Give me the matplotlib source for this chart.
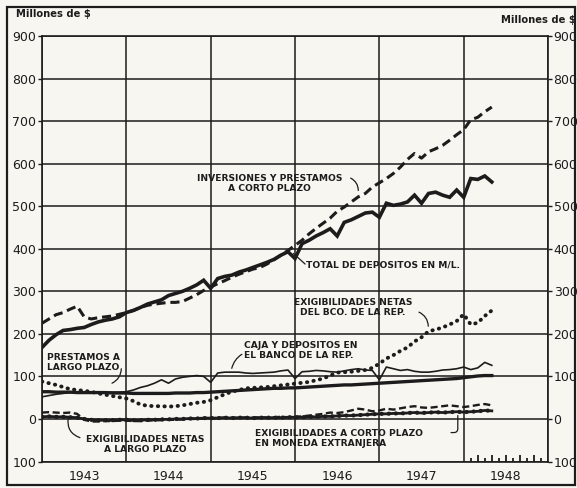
import numpy as np
import matplotlib
matplotlib.use('Agg')
from matplotlib import pyplot as plt
from matplotlib.patches import Rectangle

# monthly series, Jan 1943 .. May 1948 (millones de $)
total_depositos = [168, 185, 198, 208, 210, 213, 215, 222, 228, 232, 235, 240,
                   250, 255, 262, 270, 275, 280, 290, 295, 300, 307, 315, 326,
                   307, 330, 335, 338, 345, 350, 356, 362, 368, 375, 385, 393,
                   377, 412, 420, 430, 438, 447, 430, 462, 468, 476, 484, 486,
                   474, 507, 502, 505, 510, 526, 507, 530, 533, 526, 521, 538,
                   521, 565, 563, 571, 557]
inversiones = [225, 235, 245, 250, 258, 265, 240, 235, 238, 240, 242, 246,
               250, 255, 262, 267, 270, 272, 274, 274, 276, 284, 292, 302,
               310, 318, 325, 333, 340, 346, 352, 356, 364, 374, 385, 396,
               408, 420, 435, 448, 460, 472, 488, 498, 510, 522, 530, 545,
               555, 565, 577, 592, 610, 624, 613, 628, 635, 643, 655, 668,
               680, 703, 709, 722, 733]
exig_bco = [88, 84, 80, 75, 70, 68, 66, 64, 60, 57, 54, 51,
            48, 42, 34, 31, 30, 30, 29, 30, 32, 35, 38, 40,
            44, 51, 58, 64, 68, 72, 73, 74, 75, 77, 79, 81,
            83, 85, 87, 91, 95, 102, 109, 110, 111, 113, 115, 120,
            130, 142, 150, 160, 168, 182, 192, 206, 210, 215, 222, 230,
            246, 222, 226, 242, 255]
caja = [52, 55, 58, 60, 62, 62, 62, 63, 63, 63, 63, 63,
        64, 68, 74, 78, 84, 92, 84, 94, 98, 100, 102, 100,
        86, 108, 110, 110, 110, 108, 107, 108, 109, 110, 113, 115,
        95, 111, 112, 114, 113, 111, 110, 113, 116, 118, 115, 114,
        92, 122, 118, 114, 116, 112, 110, 110, 112, 115, 116, 118,
        122, 116, 120, 133, 126]
prestamos_lp = [64, 64, 63, 63, 63, 62, 62, 62, 62, 62, 61, 61,
                61, 60, 60, 60, 60, 60, 60, 61, 61, 61, 62, 62,
                63, 64, 65, 66, 67, 68, 69, 70, 71, 72, 72, 73,
                73, 74, 75, 76, 77, 78, 79, 80, 80, 81, 82, 83,
                84, 85, 86, 87, 88, 89, 90, 91, 92, 93, 94, 95,
                97, 99, 101, 102, 102]
exig_lp = [15, 16, 15, 14, 15, 12, -2, -6, -6, -5, -5, -4,
           -4, -5, -5, -4, -3, -3, -2, -2, -1, 0, 0, 1,
           2, 2, 3, 3, 2, 3, 3, 4, 3, 4, 5, 4,
           5, 6, 8, 10, 12, 15, 14, 16, 20, 24, 22, 18,
           20, 24, 22, 25, 28, 30, 27, 26, 28, 30, 32, 30,
           28, 30, 33, 35, 32]
exig_me = [5, 6, 5, 5, 4, 3, 0, -2, -3, -3, -3, -2,
           -2, -3, -3, -2, -2, -1, -1, 0, 0, 1, 1, 2,
           2, 2, 3, 2, 3, 3, 2, 3, 3, 3, 3, 4,
           4, 4, 5, 5, 6, 6, 7, 8, 8, 9, 10, 11,
           12, 12, 13, 13, 14, 15, 14, 15, 16, 15, 16, 17,
           16, 17, 18, 20, 19]

years = [1943, 1944, 1945, 1946, 1947, 1948]
y_ticks = [-100, 0, 100, 200, 300, 400, 500, 600, 700, 800, 900]
y_labels = ['100', '0', '100', '200', '300', '400', '500', '600', '700', '800', '900']
months_1948 = [1, 2, 3, 4, 5, 6, 7, 8, 9, 10, 11]

INK = '#1c1c1c'
PAPER = '#f8f6f0'

months = np.arange(len(total_depositos))
x = 1943 + months / 12.0

fig = plt.figure(figsize=(5.77, 4.88), dpi=100, facecolor=PAPER)
ax = fig.add_axes([0.0728, 0.0543, 0.877, 0.8719])
ax.set_facecolor(PAPER)

# marco exterior de la pagina
fig.patches.append(Rectangle((0.012, 0.006), 0.985, 0.98, transform=fig.transFigure,
                             fill=False, edgecolor=INK, linewidth=1.6))

ax.set_xlim(1943, 1949)
ax.set_ylim(-100, 900)

# grilla
ax.set_xticks(years + [1949])
ax.set_xticklabels([])
ax.set_xticks([yr + 0.5 for yr in years], minor=True)
ax.set_xticklabels([str(yr) for yr in years], minor=True)
ax.tick_params(axis='x', which='both', length=0, pad=6, labelsize=9, colors=INK)
ax.set_yticks(y_ticks)
ax.set_yticklabels(y_labels)
ax.tick_params(axis='y', length=3, width=1, pad=1, labelsize=9, colors=INK,
               right=True, labelright=True)
ax.grid(True, which='major', color=INK, linewidth=1.1)
for sp in ax.spines.values():
    sp.set_color(INK)
    sp.set_linewidth(1.2)

# marcas mensuales en 1948
tick_x = [1948 + m / 12.0 for m in months_1948]
tick_h = [-91 if m % 2 else -84 for m in months_1948]
ax.vlines(tick_x, -100, tick_h, color=INK, linewidth=1.3)

# series
ax.plot(x, inversiones, color=INK, linewidth=2.2, linestyle=(0, (3, 1.6)))
ax.plot(x, total_depositos, color=INK, linewidth=2.6, solid_joinstyle='miter')
ax.plot(x, exig_bco, color=INK, linewidth=2.8, linestyle=(0, (0.1, 1.6)),
        dash_capstyle='round')
ax.plot(x, caja, color=INK, linewidth=1.2)
ax.plot(x, prestamos_lp, color=INK, linewidth=2.4)
ax.plot(x, exig_lp, color=INK, linewidth=1.7, linestyle=(0, (3, 1.5)))
ax.plot(x, exig_me, color=INK, linewidth=2.0)
ax.plot(x, exig_me, color=INK, linewidth=3.0, linestyle=(0, (0.1, 1.6)),
        dash_capstyle='round')

# rotulos
lbl = dict(fontsize=6.6, fontweight='bold', color=INK, linespacing=1.15)
arrow = dict(arrowstyle='-', color=INK, linewidth=0.9, shrinkA=0, shrinkB=0)

ax.text(1945.70, 553, 'INVERSIONES Y PRESTAMOS\nA CORTO PLAZO', ha='center', va='center', **lbl)
ax.annotate('', xy=(1946.75, 537), xytext=(1946.66, 566),
            arrowprops=dict(connectionstyle='arc3,rad=-0.3', **arrow))

ax.text(1946.13, 361, 'TOTAL DE DEPOSITOS EN M/L.', ha='left', va='center', **lbl)
ax.annotate('', xy=(1945.98, 389), xytext=(1946.12, 364),
            arrowprops=dict(connectionstyle='arc3,rad=0', **arrow))

ax.text(1946.69, 262, 'EXIGIBILIDADES NETAS\nDEL BCO. DE LA REP.', ha='center', va='center', **lbl)
ax.annotate('', xy=(1947.58, 218), xytext=(1947.47, 251),
            arrowprops=dict(connectionstyle='arc3,rad=-0.3', **arrow))

ax.text(1945.40, 160, 'CAJA Y DEPOSITOS EN\nEL BANCO DE LA REP.', ha='left', va='center', **lbl)
ax.annotate('', xy=(1945.25, 119), xytext=(1945.37, 152),
            arrowprops=dict(connectionstyle='arc3,rad=0.2', **arrow))

ax.text(1943.49, 132, 'PRESTAMOS A\nLARGO PLAZO', ha='center', va='center', **lbl)
ax.annotate('', xy=(1943.83, 84), xytext=(1943.94, 118),
            arrowprops=dict(connectionstyle='arc3,rad=-0.3', **arrow))

ax.text(1944.22, -59, 'EXIGIBILIDADES NETAS\nA LARGO PLAZO', ha='center', va='center', **lbl)
ax.annotate('', xy=(1943.31, 1), xytext=(1943.45, -44),
            arrowprops=dict(connectionstyle='arc3,rad=-0.4', **arrow))

ax.text(1945.53, -46, 'EXIGIBILIDADES A CORTO PLAZO\nEN MONEDA EXTRANJERA', ha='left', va='center', **lbl)
ax.annotate('', xy=(1947.93, 8), xytext=(1947.85, -32),
            arrowprops=dict(connectionstyle='angle,angleA=0,angleB=90,rad=4', **arrow))

fig.text(0.028, 0.972, 'Millones de $', ha='left', va='center', fontsize=7.2,
         fontweight='bold', color=INK)
fig.text(0.997, 0.960, 'Millones de $', ha='right', va='center', fontsize=7.2,
         fontweight='bold', color=INK)

fig.savefig('out.png', dpi=100, facecolor=PAPER)
